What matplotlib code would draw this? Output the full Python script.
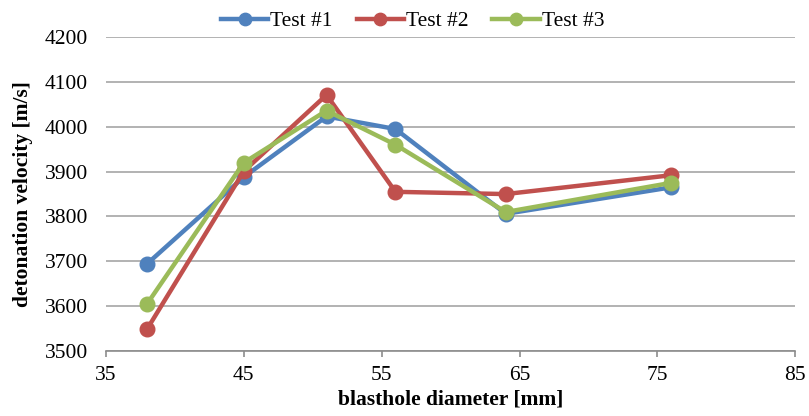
import matplotlib
matplotlib.use("Agg")
import matplotlib.pyplot as plt

diameters = [38, 45, 51, 56, 64, 76]
test1 = [3695, 3888, 4023, 3995, 3806, 3865]
test2 = [3550, 3901, 4071, 3855, 3850, 3892]
test3 = [3606, 3920, 4036, 3960, 3810, 3875]
labels = ["Test #1", "Test #2", "Test #3"]
colors = ["#4F81BD", "#C0504D", "#9BBB59"]

plt.rcParams['font.family'] = ['Liberation Serif', 'DejaVu Serif']

fig = plt.figure(figsize=(8.09, 4.16), dpi=100)
ax = fig.add_axes([0.131, 0.156, 0.852, 0.755])

for ys, lab, c in zip([test1, test2, test3], labels, colors):
    ax.plot(diameters, ys, color=c, lw=3.2, marker='o', markersize=10.5,
            label=lab, solid_joinstyle='round')

ax.set_xlim(35, 85)
ax.set_ylim(3500, 4200)
ax.set_xticks(range(35, 86, 10))
ax.set_yticks(range(3500, 4201, 100))
ax.grid(axis='y', color='#A6A6A6', lw=1.2)
ax.set_axisbelow(True)
for s in ['left', 'right', 'top']:
    ax.spines[s].set_visible(False)
ax.spines['bottom'].set_color('#8C8C8C')
ax.spines['bottom'].set_linewidth(1.2)
ax.tick_params(axis='x', direction='out', length=4, color='#8C8C8C', width=1.2, labelsize=15.5, pad=7)
ax.tick_params(axis='y', length=0, labelsize=15.5, pad=13)
ax.set_xlabel('blasthole diameter [mm]', fontsize=15.5, fontweight='bold', labelpad=3)
ax.set_ylabel('detonation velocity [m/s]', fontsize=15.5, fontweight='bold', labelpad=8)

fig.legend(loc='upper center', bbox_to_anchor=(0.51, 1.02), ncol=3, frameon=False,
           fontsize=15.5, handlelength=2.2, handletextpad=0.1, columnspacing=1.1,
           markerscale=0.85)

fig.savefig('out.png', dpi=100)
